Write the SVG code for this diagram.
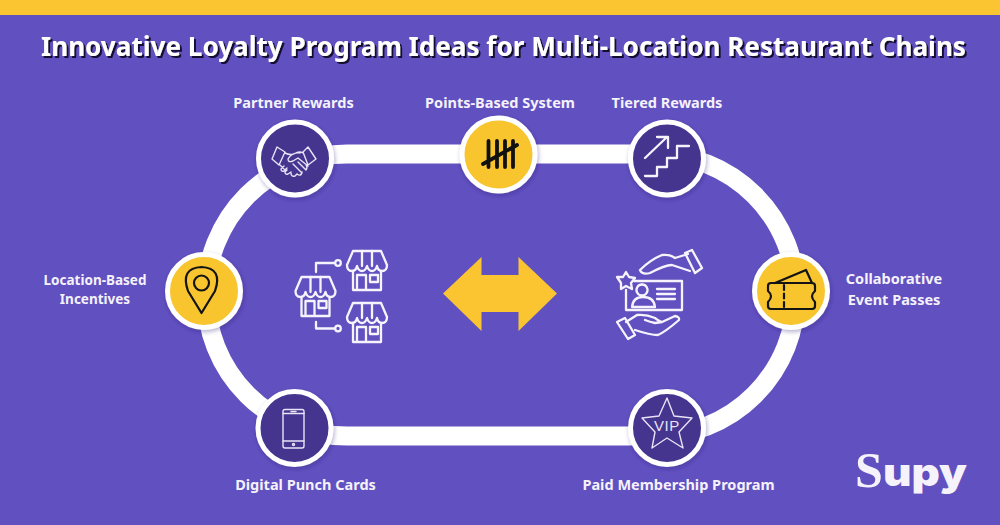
<svg xmlns="http://www.w3.org/2000/svg" width="1000" height="525" viewBox="0 0 1000 525">
<defs>
<style>
.t{font-family:"Noto Sans","Open Sans",sans-serif;font-weight:700;font-size:14.500px;fill:#f5f2fb;text-anchor:middle}
.s{font-size:13.500px}
.ring{stroke:#fff;stroke-width:5;filter:url(#ns)}
.d{fill:#44348f}.y{fill:#f8c52f}
.w{fill:none;stroke:#f6f3fc;stroke-width:2.300;stroke-linecap:round;stroke-linejoin:round}
.w1{fill:none;stroke:#e8e3f6;stroke-width:1.400;stroke-linecap:round;stroke-linejoin:round}
.k{fill:none;stroke:#141414;stroke-width:2.200;stroke-linecap:round;stroke-linejoin:round}
</style>
<filter id="ns" x="-20%" y="-20%" width="140%" height="140%"><feDropShadow dx="1" dy="2" stdDeviation="2" flood-color="#2a1d70" flood-opacity=".35"/></filter>
<filter id="ts" x="-2%" y="-20%" width="104%" height="150%"><feDropShadow dx="2" dy="2" stdDeviation="0.7" flood-color="#140e30" flood-opacity="1"/></filter>
<g id="shop">
<path class="w" d="M-14 -12 L14 -12 L20 2 Q20 8 15 8 Q11 8 10 3 Q8.500 8 5 8 Q1.500 8 0 3 Q-1.500 8 -5 8 Q-8.500 8 -10 3 Q-11 8 -15 8 Q-20 8 -20 2Z"/>
<path class="w" d="M-5 -12L-5 3M5 -12L5 3M-14 8V27H14V8M-10 27V12H-1V27M3 12H11V19H3Z"/>
</g>
</defs>
<rect width="1000" height="525" fill="#6150bf"/>
<rect width="1000" height="15" fill="#fbc531"/>
<text id="title" x="503.500" y="55.500" filter="url(#ts)" style="font-family:'Noto Sans','Open Sans',sans-serif;font-weight:700;font-size:26.100px;fill:#fff;text-anchor:middle">Innovative Loyalty Program Ideas for Multi-Location Restaurant Chains</text>
<g id="connectors">
<path d="M347 154H655A141 141 0 0 1 655 436H347A141 141 0 0 1 347 154Z" fill="none" stroke="#fff" stroke-width="19"/>
</g>
<g id="partner-rewards">
<circle class="d ring" cx="295" cy="158.500" r="36.500"/>
<path class="w1" d="M277 147L285 152L279 165L272 159ZM308 147L316 159L308 165L303 152ZM285 153Q291 156 296 153Q300 151 303 153M300 153Q292 152 288 159Q288 163 293 161L298 158L308 166M280 165L284 169M284 166L281 169Q281 172 284 171L287 168M287 170L285 172Q285 175 288 174L291 172M291 173Q291 177 295 176L297 174M297 174Q301 177 302 172M293 164L302 173M298 162L306 170Q308 167 306 165"/>
<text class="t" x="293.500" y="108">Partner Rewards</text>
</g>
<g id="points-based-system">
<circle class="y ring" cx="498.500" cy="154.500" r="36.500"/>
<path d="M488.500 141V167M497 141V167M505 141V167M513 141V167M483 164L517 145" fill="none" stroke="#111" stroke-width="3.800" stroke-linecap="round"/>
<text class="t" x="500" y="108">Points-Based System</text>
</g>
<g id="tiered-rewards">
<circle class="d ring" cx="667" cy="158.500" r="36.500"/>
<path class="w" d="M645 176H657V167H667V158H677V146H689M645 158L667 137M657 137H668V148"/>
<text class="t" x="667" y="108">Tiered Rewards</text>
</g>
<g id="collaborative-event-passes">
<circle class="y ring" cx="791" cy="291" r="36.500"/>
<path class="k" d="M771 283H812Q815 283 815 286V291Q809 296 815 302V306Q815 309 812 309H771Q768 309 768 306V302Q774 296 768 291V286Q768 283 771 283ZM775 283L806 270L812 283"/>
<path class="k" d="M784 285V309" stroke-dasharray="5 3.500" stroke-linecap="butt"/>
<text class="t"><tspan x="894" y="284">Collaborative</tspan><tspan x="894" y="305">Event Passes</tspan></text>
</g>
<g id="paid-membership-program">
<circle class="d ring" cx="667" cy="428" r="36.500"/>
<path class="w1" d="M667 398L674 416L692 418L679 432L683 448L667 438L652 448L655 432L642 418L659 416Z"/>
<text x="667" y="431" style="font-family:'Liberation Sans',sans-serif;font-size:15px;letter-spacing:.6px;fill:#e8e3f6;text-anchor:middle">VIP</text>
<text class="t" x="678.500" y="490">Paid Membership Program</text>
</g>
<g id="digital-punch-cards">
<circle class="d ring" cx="294.500" cy="428" r="36.500"/>
<rect class="w1" x="283" y="409.500" width="21" height="38.500" rx="2"/>
<path class="w1" d="M283 413.500H304M283 441H304M291 411.500H296"/>
<circle class="w1" cx="293.500" cy="444.500" r="1"/>
<text class="t" x="305.500" y="490">Digital Punch Cards</text>
</g>
<g id="location-based-incentives">
<circle class="y ring" cx="204" cy="291" r="36.500"/>
<path class="k" d="M201.500 313L188 291Q180 268 201.500 267Q223 268 215 291Z"/>
<circle class="k" cx="201.500" cy="283" r="7.500"/>
<text class="t s"><tspan x="95" y="285">Location-Based</tspan><tspan x="95" y="304">Incentives</tspan></text>
</g>
<g id="restaurant-locations">
<use href="#shop" x="315.500" y="289"/>
<use href="#shop" x="367" y="263"/>
<use href="#shop" x="367" y="315"/>
<path class="w" d="M316 272V263H335M316 322V328.500H335"/>
<circle class="w" cx="338" cy="263" r="2.800"/>
<circle class="w" cx="338" cy="328.500" r="2.800"/>
</g>
<g id="double-arrow">
<path d="M443 293.500L481.500 257V275H518.500V257L557 293.500L518.500 331V312H481.500V331Z" fill="#fbc531"/>
</g>
<g id="membership-card">
<path class="w" d="M634 281H682V310H626V290"/>
<path class="w" d="M657 289H675M657 294H675M657 299H675M632 307Q633 297 643 297Q654 297 655 307ZM642 284.500a5.500 5.500 0 1 0 .01 0"/>
<path class="w" d="M626 272L629 277L635 278L631 283L632 289L626 286L621 289L621 283L617 277L623 277Z"/>
<path class="w" d="M640 270Q650 260 662 255Q670 254 675 258L688 254M692 250L702 268L695 273L685 253ZM690 271L672 265Q665 265 650 273Q642 275 640 270"/>
<path class="w" d="M617 322L625 318L635 335L628 339ZM626 322L637 315Q646 314 655 318Q660 322 662 322L675 316Q680 317 679 320Q665 332 658 335Q650 335 635 330M645 320Q650 322 655 323L662 322"/>
</g>
<g id="logo">
<text x="855" y="487" style="font-family:'Liberation Serif',serif;font-weight:700;font-size:50px;fill:#f5f2fb">S</text>
<text x="883" y="486" textLength="84" lengthAdjust="spacingAndGlyphs" style="font-family:'Inter','Liberation Sans',sans-serif;font-weight:900;font-size:38px;fill:#f5f2fb">upy</text>
</g>
</svg>
